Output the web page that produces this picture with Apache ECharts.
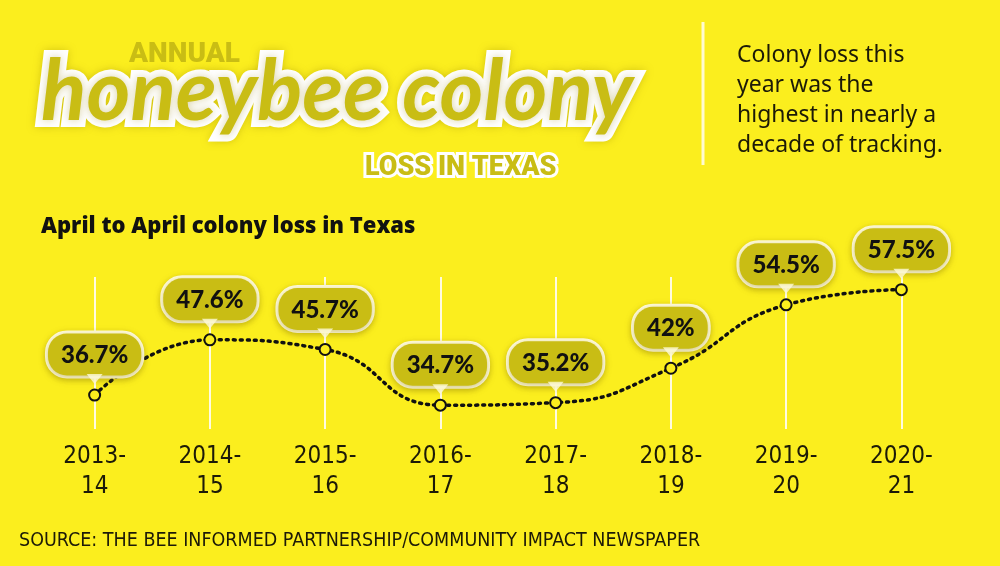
<!DOCTYPE html>
<html>
<head>
<meta charset="utf-8">
<script src="https://cdn.jsdelivr.net/npm/echarts@6/dist/echarts.min.js"></script>
<style>
  html, body { margin: 0; padding: 0; background: #fbee1e; }
  #main { width: 1000px; height: 566px; }
</style>
</head>
<body>
<div id="main"></div>
<script>
var seasons = ['2013-\n14', '2014-\n15', '2015-\n16', '2016-\n17', '2017-\n18', '2018-\n19', '2019-\n20', '2020-\n21'];
var lossPct = [36.7, 47.6, 45.7, 34.7, 35.2, 42, 54.5, 57.5];
var lossLabels = ['36.7%', '47.6%', '45.7%', '34.7%', '35.2%', '42%', '54.5%', '57.5%'];

var bg = '#fbee1e';
var olive = '#c9bd14';

var chart = echarts.init(document.getElementById('main'));

var option = {
    backgroundColor: bg,
    animation: false,
    title: [
        {
            text: 'honeybee colony',
            left: 36, top: 46,
            textStyle: {
                fontFamily: 'Lato', fontStyle: 'italic', fontWeight: 700, fontSize: 84,
                color: olive, textBorderColor: '#fff', textBorderWidth: 14,
                textShadowColor: 'rgba(150,130,0,0.35)', textShadowBlur: 8
            }
        },
        {
            text: 'ANNUAL',
            left: 124, top: 36,
            textStyle: { fontFamily: 'Roboto', fontWeight: 900, fontSize: 28, color: olive }
        },
        {
            text: 'LOSS IN TEXAS',
            left: 360, top: 150,
            textStyle: {
                fontFamily: 'Roboto', fontWeight: 900, fontSize: 27, color: olive,
                textBorderColor: '#fff', textBorderWidth: 6
            }
        },
        {
            text: 'Colony loss this\nyear was the\nhighest in nearly a\ndecade of tracking.',
            left: 732, top: 35,
            textStyle: { fontFamily: 'Noto Sans', fontWeight: 400, fontSize: 23, lineHeight: 30, color: '#1c1a08' }
        },
        {
            text: 'April to April colony loss in Texas',
            left: 36, top: 211,
            textStyle: { fontFamily: 'Open Sans', fontWeight: 800, fontSize: 22, color: '#111' }
        },
        {
            text: 'SOURCE: THE BEE INFORMED PARTNERSHIP/COMMUNITY IMPACT NEWSPAPER',
            left: 14, top: 526,
            textStyle: { fontFamily: 'DejaVu Sans Condensed', fontWeight: 400, fontSize: 19.5, color: '#1c1a08' }
        }
    ],
    graphic: [
        { type: 'line', shape: { x1: 703, y1: 22, x2: 703, y2: 165 }, style: { stroke: '#fffbd0', lineWidth: 3 } }
    ],
    grid: { left: 37, right: 41, top: 277, bottom: 137 },
    xAxis: {
        type: 'category',
        data: seasons,
        boundaryGap: true,
        axisLine: { show: false },
        axisTick: {
            show: true, alignWithLabel: true, inside: true, length: 152,
            lineStyle: { color: '#fffbe0', width: 2 }
        },
        axisLabel: {
            margin: 13, fontFamily: 'DejaVu Sans Condensed', fontSize: 24, lineHeight: 30, color: '#1c1a08'
        },
        splitLine: { show: false }
    },
    yAxis: {
        type: 'value', min: 30, max: 60, show: false
    },
    series: [
        {
            type: 'line',
            data: lossPct,
            smooth: 0.5,
            symbol: 'circle',
            symbolSize: 11,
            z: 3,
            lineStyle: { color: '#111', width: 3.5, type: [2, 5], cap: 'round' },
            itemStyle: { color: bg, borderColor: '#111', borderWidth: 2 },
            label: {
                show: true,
                position: 'top',
                distance: 13,
                formatter: function (p) { return lossLabels[p.dataIndex]; },
                fontFamily: 'Lato', fontWeight: 900, fontSize: 24, color: '#111',
                backgroundColor: olive,
                borderColor: '#fffbd8', borderWidth: 3, borderRadius: 19,
                padding: [10, 13, 8, 13],
                shadowColor: 'rgba(120,100,0,0.35)', shadowBlur: 6, shadowOffsetY: 2
            }
        },
        {
            type: 'scatter',
            data: lossPct,
            symbol: 'triangle',
            symbolRotate: 180,
            symbolSize: [16, 10],
            symbolOffset: [0, -16],
            z: 4,
            itemStyle: { color: '#fffbd8' },
            silent: true
        }
    ]
};

chart.setOption(option);
</script>
</body>
</html>
